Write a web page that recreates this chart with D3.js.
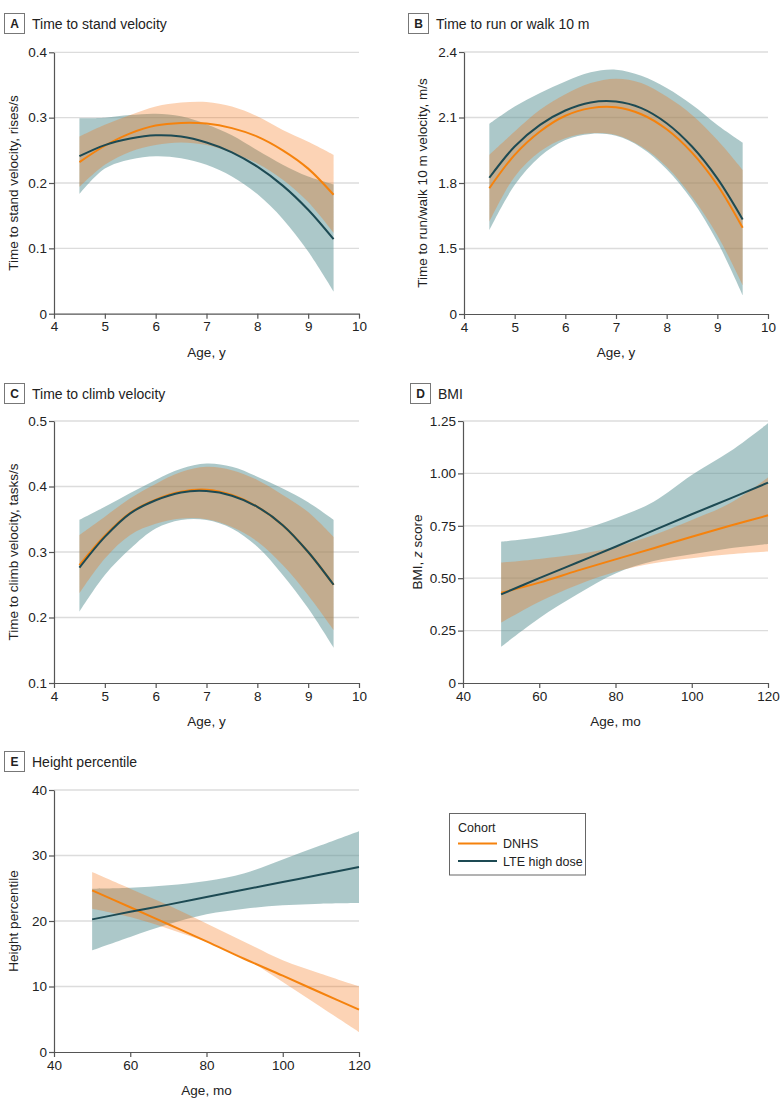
<!DOCTYPE html>
<html><head><meta charset="utf-8">
<script src="https://cdn.jsdelivr.net/npm/d3@7"></script>
<style>
body{margin:0;background:#fff;}
svg text{font-family:"Liberation Sans",Arial,sans-serif;fill:#222;}
</style></head>
<body><svg id="chart" width="780" height="1106"></svg>
<script>
// ---------- data ----------
const agesY = [4.5,5,5.5,6,6.5,7,7.5,8,8.5,9,9.5];
const agesMo = [50,60,70,80,90,100,110,120];

// A: Time to stand velocity
const standDNHS   = [0.232,0.257,0.276,0.288,0.292,0.291,0.284,0.271,0.250,0.222,0.182];
const standDNHSHi = [0.271,0.289,0.304,0.317,0.323,0.324,0.317,0.302,0.281,0.263,0.243];
const standDNHSLo = [0.194,0.228,0.248,0.258,0.262,0.258,0.246,0.230,0.205,0.171,0.124];
const standLTE    = [0.241,0.258,0.268,0.273,0.271,0.262,0.247,0.225,0.196,0.159,0.114];
const standLTEHi  = [0.299,0.300,0.304,0.306,0.302,0.290,0.273,0.250,0.228,0.210,0.198];
const standLTELo  = [0.183,0.222,0.236,0.241,0.238,0.228,0.210,0.183,0.145,0.095,0.034];

// B: Time to run or walk 10 m (axis break: "0" drawn at 1.2)
const runDNHS   = [1.776,1.929,2.036,2.108,2.143,2.147,2.115,2.046,1.939,1.791,1.595];
const runDNHSHi = [1.929,2.036,2.135,2.207,2.258,2.278,2.258,2.196,2.112,1.997,1.860];
const runDNHSLo = [1.622,1.829,1.944,2.005,2.028,2.020,1.967,1.875,1.737,1.561,1.332];
const runLTE    = [1.824,1.967,2.066,2.132,2.169,2.173,2.143,2.074,1.967,1.821,1.633];
const runLTEHi  = [2.071,2.150,2.212,2.265,2.307,2.319,2.291,2.235,2.158,2.066,1.985];
const runLTELo  = [1.584,1.791,1.921,1.997,2.025,2.016,1.962,1.863,1.722,1.531,1.286];

// C: Time to climb velocity
const climbDNHS   = [0.280,0.325,0.360,0.380,0.392,0.395,0.387,0.369,0.341,0.300,0.250];
const climbDNHSHi = [0.326,0.354,0.382,0.404,0.422,0.430,0.425,0.410,0.387,0.361,0.323];
const climbDNHSLo = [0.237,0.290,0.326,0.343,0.351,0.350,0.338,0.316,0.280,0.234,0.181];
const climbLTE    = [0.276,0.323,0.359,0.379,0.391,0.393,0.386,0.369,0.341,0.300,0.250];
const climbLTEHi  = [0.349,0.369,0.390,0.410,0.427,0.435,0.430,0.415,0.397,0.376,0.349];
const climbLTELo  = [0.209,0.265,0.305,0.336,0.349,0.349,0.336,0.308,0.265,0.214,0.154];

// D: BMI z score
const bmiDNHS   = [0.431,0.479,0.536,0.590,0.643,0.698,0.750,0.800];
const bmiDNHSHi = [0.574,0.592,0.614,0.650,0.706,0.778,0.857,0.980];
const bmiDNHSLo = [0.288,0.388,0.468,0.531,0.571,0.595,0.614,0.627];
const bmiLTE    = [0.423,0.500,0.575,0.650,0.728,0.805,0.880,0.956];
const bmiLTEHi  = [0.674,0.695,0.727,0.786,0.865,0.992,1.104,1.239];
const bmiLTELo  = [0.173,0.309,0.423,0.523,0.582,0.614,0.643,0.663];

// E: Height percentile
const htDNHS   = [24.68,22.10,19.50,16.90,14.20,11.65,9.05,6.46];
const htDNHSHi = [27.48,24.94,22.39,19.60,16.80,14.00,11.96,10.03];
const htDNHSLo = [21.88,20.61,18.83,16.79,14.25,10.69,6.87,3.05];
const htLTE    = [20.25,21.40,22.50,23.65,24.80,25.95,27.10,28.24];
const htLTEHi  = [24.94,25.09,25.45,26.10,27.30,29.40,31.55,33.70];
const htLTELo  = [15.52,17.56,19.49,21.02,21.88,22.39,22.65,22.75];

// ticks
const xTicksY = [4,5,6,7,8,9,10];
const xTicksMo = [40,60,80,100,120];
const standTicks = [0,0.1,0.2,0.3,0.4];
const standTickLabels = ["0","0.1","0.2","0.3","0.4"];
const runTicks = [1.2,1.5,1.8,2.1,2.4];
const runTickLabels = ["0","1.5","1.8","2.1","2.4"];
const climbTicks = [0.1,0.2,0.3,0.4,0.5];
const climbTickLabels = ["0.1","0.2","0.3","0.4","0.5"];
const bmiTicks = [0,0.25,0.5,0.75,1.0,1.25];
const bmiTickLabels = ["0","0.25","0.50","0.75","1.00","1.25"];
const htTicks = [0,10,20,30,40];
const htTickLabels = ["0","10","20","30","40"];

const cohorts = ["DNHS","LTE high dose"];

// ---------- styles ----------
const ORANGE = "#f5820d";
const TEAL = "#1d4a53";
const ORANGE_BAND = "#f56e0a";
const TEAL_BAND = "#5f9597";
const FS = "13.5px";

const svg = d3.select("#chart");

function panel(cfg){
  const g = svg.append("g");
  const x = d3.scaleLinear().domain(cfg.xDomain).range([cfg.left, cfg.right]);
  const y = d3.scaleLinear().domain(cfg.yDomain).range([cfg.bottom, cfg.top]);
  // title
  g.append("rect").attr("x",cfg.boxX+0.5).attr("y",cfg.boxY+0.5).attr("width",20).attr("height",20)
    .attr("fill","#fff").attr("stroke","#777").attr("stroke-width",1);
  g.append("text").attr("x",cfg.boxX+10.5).attr("y",cfg.boxY+15).attr("text-anchor","middle")
    .style("font-weight","bold").style("font-size","12px").text(cfg.letter);
  g.append("text").attr("x",cfg.boxX+28).attr("y",cfg.boxY+15.5).style("font-size","14px").text(cfg.title);
  // grid
  g.append("g").selectAll("line").data(cfg.yTicks.slice(1)).join("line")
    .attr("x1",cfg.left).attr("x2",cfg.right).attr("y1",d=>y(d)).attr("y2",d=>y(d))
    .attr("stroke","#dcdcdc").attr("stroke-width",1.3);
  const area = (lo,hi,xs)=>d3.area().x((d,i)=>x(xs[i])).y0((d,i)=>y(lo[i])).y1((d,i)=>y(hi[i])).curve(d3.curveCatmullRom)(lo);
  const line = (vals,xs)=>d3.line().x((d,i)=>x(xs[i])).y(d=>y(d)).curve(d3.curveCatmullRom)(vals);
  const xs = cfg.xs;
  g.append("path").attr("d",area(cfg.lteLo,cfg.lteHi,xs)).attr("fill",TEAL_BAND).attr("fill-opacity",0.52);
  g.append("path").attr("d",area(cfg.dnhsLo,cfg.dnhsHi,xs)).attr("fill",ORANGE_BAND).attr("fill-opacity",0.3);
  g.append("path").attr("d",line(cfg.dnhs,xs)).attr("fill","none").attr("stroke",ORANGE).attr("stroke-width",2);
  g.append("path").attr("d",line(cfg.lte,xs)).attr("fill","none").attr("stroke",TEAL).attr("stroke-width",2);
  // axes
  const ya = g.append("g").attr("transform",`translate(${cfg.left},0)`)
    .call(d3.axisLeft(y).tickValues(cfg.yTicks).tickFormat((d,i)=>cfg.yTickLabels[i]).tickSize(5).tickSizeOuter(0));
  const xa = g.append("g").attr("transform",`translate(0,${cfg.bottom})`)
    .call(d3.axisBottom(x).tickValues(cfg.xTicks).tickFormat(d=>d).tickSize(5).tickSizeOuter(0));
  [ya,xa].forEach(a=>{
    a.select(".domain").attr("stroke","#555").attr("stroke-width",1.2);
    a.selectAll(".tick line").attr("stroke","#555").attr("stroke-width",1.2);
    a.selectAll(".tick text").style("font-size",FS).attr("fill","#222");
  });
  ya.selectAll(".tick text").attr("x",-7);
  xa.selectAll(".tick text").attr("y",8);
  // axis titles
  g.append("text").attr("x",(cfg.left+cfg.right)/2).attr("y",cfg.bottom+43).attr("text-anchor","middle")
    .style("font-size",FS).text(cfg.xTitle);
  const yt = g.append("text").attr("transform",`translate(${cfg.yTitleX},${(cfg.top+cfg.bottom)/2}) rotate(-90)`)
    .attr("text-anchor","middle").attr("dy","0.35em").style("font-size",FS);
  if (cfg.yTitleParts){ cfg.yTitleParts.forEach(p=>yt.append("tspan").style("font-style",p[1]?"italic":"normal").text(p[0])); }
  else yt.text(cfg.yTitle);
}

panel({letter:"A",title:"Time to stand velocity",boxX:4,boxY:13,left:54,right:359,top:52.3,bottom:313.7,
  xDomain:[4,10],xTicks:xTicksY,yDomain:[0,0.4],yTicks:standTicks,yTickLabels:standTickLabels,
  xs:agesY,dnhs:standDNHS,dnhsHi:standDNHSHi,dnhsLo:standDNHSLo,lte:standLTE,lteHi:standLTEHi,lteLo:standLTELo,
  xTitle:"Age, y",yTitle:"Time to stand velocity, rises/s",yTitleX:13});
panel({letter:"B",title:"Time to run or walk 10 m",boxX:408,boxY:13,left:464,right:768,top:52,bottom:314,
  xDomain:[4,10],xTicks:xTicksY,yDomain:[1.2,2.4],yTicks:runTicks,yTickLabels:runTickLabels,
  xs:agesY,dnhs:runDNHS,dnhsHi:runDNHSHi,dnhsLo:runDNHSLo,lte:runLTE,lteHi:runLTEHi,lteLo:runLTELo,
  xTitle:"Age, y",yTitle:"Time to run/walk 10 m velocity, m/s",yTitleX:422});
panel({letter:"C",title:"Time to climb velocity",boxX:4,boxY:383,left:54,right:359,top:421,bottom:683,
  xDomain:[4,10],xTicks:xTicksY,yDomain:[0.1,0.5],yTicks:climbTicks,yTickLabels:climbTickLabels,
  xs:agesY,dnhs:climbDNHS,dnhsHi:climbDNHSHi,dnhsLo:climbDNHSLo,lte:climbLTE,lteHi:climbLTEHi,lteLo:climbLTELo,
  xTitle:"Age, y",yTitle:"Time to climb velocity, tasks/s",yTitleX:13});
panel({letter:"D",title:"BMI",boxX:410,boxY:383,left:463,right:768,top:421,bottom:683,
  xDomain:[40,120],xTicks:xTicksMo,yDomain:[0,1.25],yTicks:bmiTicks,yTickLabels:bmiTickLabels,
  xs:agesMo,dnhs:bmiDNHS,dnhsHi:bmiDNHSHi,dnhsLo:bmiDNHSLo,lte:bmiLTE,lteHi:bmiLTEHi,lteLo:bmiLTELo,
  xTitle:"Age, mo",yTitleParts:[["BMI, ",false],["z",true],[" score",false]],yTitleX:417});
panel({letter:"E",title:"Height percentile",boxX:4,boxY:751,left:54,right:359,top:790,bottom:1052,
  xDomain:[40,120],xTicks:xTicksMo,yDomain:[0,40],yTicks:htTicks,yTickLabels:htTickLabels,
  xs:agesMo,dnhs:htDNHS,dnhsHi:htDNHSHi,dnhsLo:htDNHSLo,lte:htLTE,lteHi:htLTEHi,lteLo:htLTELo,
  xTitle:"Age, mo",yTitle:"Height percentile",yTitleX:13});

// legend
const lg = svg.append("g");
lg.append("rect").attr("x",449.5).attr("y",813.5).attr("width",136).attr("height",61.5)
  .attr("fill","#fff").attr("stroke","#666").attr("stroke-width",1);
lg.append("text").attr("x",458).attr("y",832).style("font-size","12.5px").text("Cohort");
const legColors = [ORANGE, TEAL];
cohorts.forEach((c,i)=>{
  const yy = 843.5 + i*17.5;
  lg.append("line").attr("x1",458).attr("x2",497).attr("y1",yy).attr("y2",yy).attr("stroke",legColors[i]).attr("stroke-width",2);
  lg.append("text").attr("x",503).attr("y",yy+4.5).style("font-size","12.5px").text(c);
});
</script></body></html>
